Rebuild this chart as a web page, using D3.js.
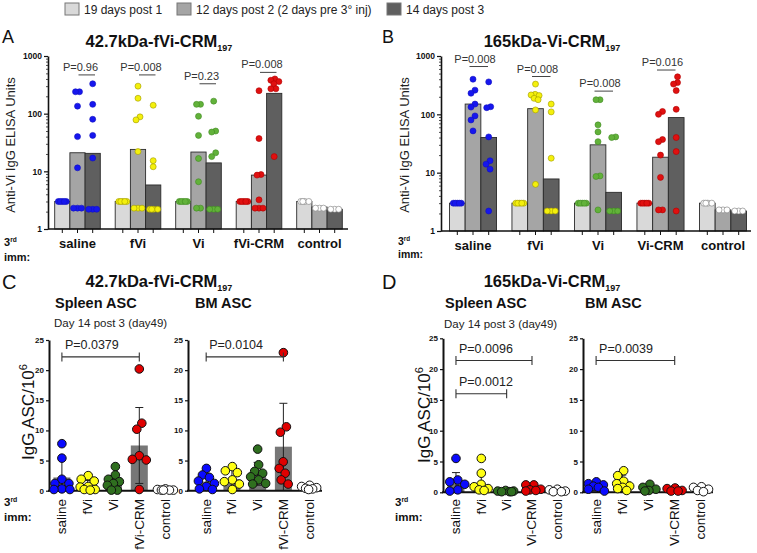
<!DOCTYPE html>
<html><head><meta charset="utf-8">
<script src="https://cdn.jsdelivr.net/npm/d3@7"></script>
<style>body{margin:0;background:#fff} svg{display:block}</style>
</head><body><svg id="c" width="757" height="553"></svg>
<script>
// ---------------- DATA ----------------
const legendLabels = ["19 days post 1", "12 days post 2 (2 days pre 3° inj)", "14 days post 3"];
const groupsA = ["saline", "fVi", "Vi", "fVi-CRM", "control"];
const groupsB = ["saline", "fVi", "Vi", "Vi-CRM", "control"];
const logTicks = [1, 10, 100, 1000];
const ascTicks = [0, 5, 10, 15, 20, 25];

// bar heights (3 timepoints per group)
const barsA = [[3, 21, 20.5], [3, 24, 5.8], [3, 21.6, 14], [3, 8.6, 225], [3, 2.4, 2.2]];
const barsB = [[3, 150, 40], [3, 125, 7.8], [3, 30, 4.6], [3, 18.4, 88], [3, 2.3, 2.2]];

// individual mice
const pointsA = [
  [[3,3,3,3,3], [240,240,135,40,11.5,2.3,2.3,2.3], [330,145,80,42,17,2.2,2.2,2.2]],
  [[3,3,3,3,3], [300,185,88,78,22,2.3,2.3,2.3], [140,15.3,12,2.2,2.2,2.2,2.2]],
  [[3,3,3,3,3], [145,145,90,42,16.7,6.6,2.3,2.3], [165,50,48,21,18,2.2,2.2,2.2]],
  [[3,3,3,3,3], [250,37,8.8,8.6,3.2,2.3,2.3,2.3], [400,380,360,330,270,270,18]],
  [[3,3,3,3], [2.3,2.3,2.3], [2.2,2.2,2.2]]
];
const pointsB = [
  [[3,3,3,3,3], [400,260,230,150,133,94,80,52], [360,135,130,41,16,14,11.5,2.2]],
  [[3,3,3,3,3], [330,220,215,210,188,178,119,6.3], [150,110,17.7,2.2,2.2,2.2]],
  [[3,3,3,3,3], [178,178,66,50,34,8.8,8.6,2.3], [41,40,2.2,2.2,2.2]],
  [[3,3,3,3,3], [112,100,37,34,20,8.3,2.3,2.3], [440,350,330,255,122,40,23,2.2]],
  [[3,3,3,3], [2.3,2.3,2.3], [2.2,2.2,2.2]]
];
const pLabelsA = ["P=0.96", "P=0.008", "P=0.23", "P=0.008"];
const pLevelA = [470, 470, 330, 520];
const pLabelsB = ["P=0.008", "P=0.008", "P=0.008", "P=0.016"];
const pLevelB = [660, 445, 250, 575];

// ASC panels (C: 42.7kDa-fVi-CRM197, D: 165kDa-Vi-CRM197)
const meanSpleenC = [2.2, 0.8, 1.3, 7.5, 0.05];
const sdSpleenC   = [3.2, 0.9, 1.2, 6.3, 0];
const ptsSpleenC = [
  [7.8,5.4,1.9,1.2,1.2,0.3,0.2,0.2],
  [2.5,1.9,1.6,0.7,0.6,0.2,0.1,0.2],
  [4.0,2.6,1.9,1.5,1.2,0.9,0.1,0.1],
  [20.2,11.2,10.2,5.8,5.2,5.1,0.2],
  [0.1,0.1,0.2,0.3,0.1,0.1]
];
const meanBmC = [1.5, 1.9, 2.8, 7.3, 0.4];
const sdBmC   = [1.4, 1.6, 1.9, 7.2, 0.2];
const ptsBmC = [
  [3.7,2.6,2.2,1.6,1.2,0.7,0.3,0.2],
  [4.0,3.3,3.0,1.8,1.5,1.1,0.2],
  [6.9,4.3,3.2,2.9,2.3,1.8,1.2,1.1],
  [22.9,10.6,9.7,4.8,3.7,2.9,1.8,1.1],
  [0.7,0.9,0.4,0.2,0.3,0.5]
];
const meanSpleenD = [1.5, 1.3, 0.1, 0.4, 0.1];
const sdSpleenD   = [1.7, 2.0, 0.1, 0.4, 0.1];
const ptsSpleenD = [
  [5.5,2.0,1.7,1.3,0.4,0.2],
  [5.5,3.1,1.3,0.9,0.6,0.4,0.3],
  [0.2,0.1,0.1,0.2,0.1,0.3],
  [1.2,1.2,0.5,0.4,0.2,0.3],
  [0.1,0.2,0.4,0.1,0.5]
];
const meanBmD = [1.0, 1.8, 0.5, 0.3, 0.5];
const sdBmD   = [0.5, 1.0, 0.3, 0.2, 0.3];
const ptsBmD = [
  [1.7,1.4,1.2,1.0,0.8,0.5,0.2],
  [3.5,2.7,1.8,1.4,1.0,0.8,0.6,0.3],
  [1.3,0.8,0.5,0.3,0.2],
  [0.7,0.6,0.3,0.2,0.2],
  [0.8,0.9,0.5,0.3,0.1]
];
const bracketsSpleenC = [{from: 0, to: 3, level: 22.2, label: "P=0.0379"}];
const bracketsBmC = [{from: 0, to: 3, level: 22.2, label: "P=0.0104"}];
const bracketsSpleenD = [{from: 0, to: 3, level: 21.4, label: "P=0.0096"}, {from: 0, to: 2, level: 16.0, label: "P=0.0012"}];
const bracketsBmD = [{from: 0, to: 3, level: 21.4, label: "P=0.0039"}];

// ---------------- STYLE ----------------
const FONT = '"Liberation Sans", Arial, Helvetica, sans-serif';
const barFills = ["#d9d9d9", "#a5a5a5", "#5f5f5f"];
const colorsAB = ["#1616ee", "#f4f00c", "#62b23a", "#e01010", "#ffffff"];
const strokesAB = ["#1010c0", "#a09800", "#3f8a22", "#b00000", "#777777"];
const colorsCD = ["#0a0aff", "#ffff14", "#2f6f1f", "#e00000", "#ffffff"];

const svg = d3.select("#c");

function txt(x, y, s, size, weight, anchor, fill) {
  return svg.append("text").attr("x", x).attr("y", y).text(s)
    .attr("font-family", FONT).attr("font-size", size)
    .attr("font-weight", weight || "normal").attr("text-anchor", anchor || "start")
    .attr("fill", fill || "#111");
}

// collision-based beeswarm, then each touching cluster recentred on the column
function swarm(values, yScale, cx, r, maxHalf, minDist) {
  const pts = values.map(v => ({v, y: yScale(v)})).sort((a, b) => a.y - b.y);
  const placed = [];
  const lim = Math.floor(maxHalf);
  pts.forEach(p => {
    let best = 0, bestScore = -1;
    for (let s = 0; s <= 2 * lim; s++) {
      const off = s === 0 ? 0 : (s % 2 ? -Math.ceil(s / 2) : s / 2);
      let md = Infinity;
      placed.forEach(q => { const d = Math.hypot(q.x - (cx + off), q.y - p.y); if (d < md) md = d; });
      if (md >= minDist) { best = off; bestScore = Infinity; break; }
      if (md > bestScore) { bestScore = md; best = off; }
    }
    p.x = cx + best; placed.push(p);
  });
  // components of touching points
  const parent = pts.map((_, i) => i);
  const find = i => parent[i] === i ? i : (parent[i] = find(parent[i]));
  for (let i = 0; i < pts.length; i++) for (let j = i + 1; j < pts.length; j++) {
    if (Math.abs(pts[i].y - pts[j].y) < 2 * r) parent[find(i)] = find(j);
  }
  const comps = d3.group(pts.map((p, i) => ({p, c: find(i)})), d => d.c);
  comps.forEach(arr => {
    const m = d3.mean(arr, d => d.p.x) - cx;
    arr.forEach(d => d.p.x -= m);
  });
  return pts;
}

function title(cx, y, main, sub) {
  const t = svg.append("text").attr("x", cx).attr("y", y).attr("text-anchor", "middle")
    .attr("font-family", FONT).attr("font-weight", "bold").attr("font-size", 16.5).attr("fill", "#111");
  t.append("tspan").text(main);
  t.append("tspan").attr("dy", 4).attr("font-size", 9).text(sub);
}

function immLabel(x, y1, y2, size) {
  const t = svg.append("text").attr("x", x).attr("y", y1).attr("font-family", FONT)
    .attr("font-weight", "bold").attr("font-size", size).attr("fill", "#111");
  t.append("tspan").text("3");
  t.append("tspan").attr("dy", -4).attr("font-size", size * 0.6).text("rd");
  txt(x, y2, "imm:", size, "bold");
}

// ---------------- LEGEND ----------------
const legendX = [65, 177, 387];
legendLabels.forEach((s, i) => {
  svg.append("rect").attr("x", legendX[i]).attr("y", 3).attr("width", 14).attr("height", 12)
    .attr("fill", barFills[i]).attr("stroke", "#777").attr("stroke-width", 1);
  txt(legendX[i] + 19, 14, s, 12, "normal", "start", "#222");
});

// ---------------- LOG PANELS (A, B) ----------------
function drawLogPanel(o) {
  const g = svg.append("g");
  const y = d3.scaleLog().domain([1, 1000]).range([o.yBottom, o.yTop]);
  const x = d3.scalePoint().domain(o.groups).range(o.xRange).padding(0.5);
  const bw = o.bw;
  o.groups.forEach((grp, i) => {
    o.bars[i].forEach((v, k) => {
      const cx = x(grp) + (k - 1) * bw;
      g.append("rect").attr("x", cx - bw / 2).attr("y", y(v)).attr("width", bw)
        .attr("height", y(1) - y(v)).attr("fill", barFills[k])
        .attr("stroke", "#2b2b2b").attr("stroke-width", 0.9);
    });
  });
  g.append("line").attr("x1", o.axisX).attr("x2", o.xEnd).attr("y1", y(1)).attr("y2", y(1))
    .attr("stroke", "#111").attr("stroke-width", 1.6);
  o.groups.forEach(grp => [0, 1, 2].forEach(k => {
    const cx = x(grp) + (k - 1) * bw;
    g.append("line").attr("x1", cx).attr("x2", cx).attr("y1", y(1)).attr("y2", y(1) + 4)
      .attr("stroke", "#111").attr("stroke-width", 1);
  }));
  const ga = g.append("g").attr("transform", `translate(${o.axisX},0)`)
    .call(d3.axisLeft(y).tickValues(logTicks).tickFormat(d3.format("d")).tickSize(4).tickSizeOuter(0).tickPadding(2));
  ga.selectAll("text").attr("font-family", FONT).attr("font-size", 8.5).attr("font-weight", "bold").attr("fill", "#111");
  ga.select(".domain").attr("stroke-width", 1.6).attr("stroke", "#111");
  ga.selectAll(".tick line").attr("stroke", "#111").attr("stroke-width", 1.2);
  const minor = [];
  [1, 10, 100].forEach(d => { for (let m = 2; m <= 9; m++) minor.push(d * m); });
  const gm = g.append("g").attr("transform", `translate(${o.axisX},0)`)
    .call(d3.axisLeft(y).tickValues(minor).tickSize(2).tickFormat(""));
  gm.select(".domain").remove();
  gm.selectAll(".tick line").attr("stroke", "#222").attr("stroke-width", 0.8);
  o.groups.forEach((grp, i) => {
    o.points[i].forEach((vals, k) => {
      const cx = x(grp) + (k - 1) * bw;
      const pts = swarm(vals, y, cx, 3, bw / 2 - 3, 5.2);
      g.selectAll(null).data(pts).enter().append("circle")
        .attr("cx", d => d.x).attr("cy", d => d.y).attr("r", 3)
        .attr("fill", colorsAB[i]).attr("stroke", strokesAB[i]).attr("stroke-width", 0.6);
    });
  });
  o.pLabels.forEach((s, i) => {
    const cx = x(o.groups[i]);
    const ly = y(o.pLevels[i]);
    g.append("line").attr("x1", cx + o.lineOff[0]).attr("x2", cx + o.lineOff[1])
      .attr("y1", ly).attr("y2", ly).attr("stroke", "#444").attr("stroke-width", 1);
    txt(cx + o.textOff, ly - 4, s, 11, "normal", "middle", "#333");
  });
  o.groups.forEach(grp => txt(x(grp), o.labelY, grp, 13, "bold", "middle"));
  svg.append("text").attr("transform", `translate(${o.titleX},${o.titleY}) rotate(-90)`)
    .attr("text-anchor", "middle").attr("font-family", FONT).attr("font-size", 13)
    .attr("fill", "#222").text("Anti-Vi IgG ELISA Units");
}

drawLogPanel({groups: groupsA, bars: barsA, points: pointsA, pLabels: pLabelsA, pLevels: pLevelA,
  yBottom: 229, yTop: 56, xRange: [47.25, 349.75], bw: 15.2, axisX: 48, xEnd: 348,
  lineOff: [1, 17.5], textOff: 3, labelY: 248, titleX: 15, titleY: 145});
drawLogPanel({groups: groupsB, bars: barsB, points: pointsB, pLabels: pLabelsB, pLevels: pLevelB,
  yBottom: 231, yTop: 56, xRange: [441.75, 754.25], bw: 15.7, axisX: 441, xEnd: 751,
  lineOff: [-3.5, 15], textOff: 2, labelY: 250, titleX: 409, titleY: 145});

// ---------------- ASC PANELS (C, D) ----------------
function drawAscPanel(o) {
  const g = svg.append("g");
  const y = d3.scaleLinear().domain([0, 25]).range([o.yZero, o.yTop]);
  const x = d3.scalePoint().domain(o.groups).range(o.xRange).padding(0.5);
  const bw = 17;
  o.groups.forEach((grp, i) => {
    g.append("rect").attr("x", x(grp) - bw / 2).attr("y", y(o.means[i])).attr("width", bw)
      .attr("height", y(0) - y(o.means[i])).attr("fill", "#777777");
  });
  o.groups.forEach((grp, i) => {
    if (o.sds[i] <= 0) return;
    const cx = x(grp), hi = o.means[i] + o.sds[i], lo = Math.max(0, o.means[i] - o.sds[i]);
    g.append("line").attr("x1", cx).attr("x2", cx).attr("y1", y(lo)).attr("y2", y(hi))
      .attr("stroke", "#222").attr("stroke-width", 1);
    g.append("line").attr("x1", cx - 4).attr("x2", cx + 4).attr("y1", y(hi)).attr("y2", y(hi))
      .attr("stroke", "#222").attr("stroke-width", 1);
    if (lo > 0.3) g.append("line").attr("x1", cx - 4).attr("x2", cx + 4).attr("y1", y(lo)).attr("y2", y(lo))
      .attr("stroke", "#222").attr("stroke-width", 1);
  });
  const ga = g.append("g").attr("transform", `translate(${o.axisX},0)`)
    .call(d3.axisLeft(y).tickValues(ascTicks).tickSize(3).tickSizeOuter(0).tickPadding(2));
  ga.selectAll("text").attr("font-family", FONT).attr("font-size", 8).attr("font-weight", "bold").attr("fill", "#111");
  ga.select(".domain").attr("stroke-width", 2).attr("stroke", "#111");
  ga.selectAll(".tick line").attr("stroke", "#111").attr("stroke-width", 1.2);
  g.append("line").attr("x1", o.axisX - 1).attr("x2", o.axisEnd).attr("y1", y(0)).attr("y2", y(0))
    .attr("stroke", "#111").attr("stroke-width", 2);
  o.groups.forEach((grp, i) => {
    const pts = swarm(o.points[i], y, x(grp), 4.3, 8, 7.4);
    g.selectAll(null).data(pts).enter().append("circle")
      .attr("cx", d => d.x).attr("cy", d => d.y).attr("r", 4.3)
      .attr("fill", colorsCD[i]).attr("stroke", "#111").attr("stroke-width", 1);
  });
  o.brackets.forEach(b => {
    const x1 = x(o.groups[b.from]), x2 = x(o.groups[b.to]), by = y(b.level);
    g.append("path").attr("d", `M${x1},${by - 4.5}V${by + 4.5}M${x1},${by}H${x2}M${x2},${by - 4.5}V${by + 4.5}`)
      .attr("stroke", "#333").attr("stroke-width", 1.1).attr("fill", "none");
    txt(x1 + 3, by - 7.5, b.label, 12.5, "normal", "start", "#222");
  });
  o.groups.forEach(grp => {
    svg.append("text").attr("transform", `translate(${x(grp) + 4.5},499) rotate(-90)`)
      .attr("text-anchor", "end").attr("font-family", FONT).attr("font-size", 13.5)
      .attr("fill", "#111").text(grp);
  });
}

function ascYTitle(x, y) {
  const t = svg.append("text").attr("transform", `translate(${x},${y}) rotate(-90)`)
    .attr("text-anchor", "middle").attr("font-family", FONT).attr("font-size", 17).attr("fill", "#111");
  t.append("tspan").text("IgG ASC/10");
  t.append("tspan").attr("dy", -7).attr("font-size", 11).text("6");
}

drawAscPanel({groups: groupsA, means: meanSpleenC, sds: sdSpleenC, points: ptsSpleenC, brackets: bracketsSpleenC,
  yZero: 490.7, yTop: 340, axisX: 49, xRange: [49, 178], axisEnd: 178});
drawAscPanel({groups: groupsA, means: meanBmC, sds: sdBmC, points: ptsBmC, brackets: bracketsBmC,
  yZero: 490.7, yTop: 340, axisX: 188, xRange: [193.3, 322], axisEnd: 322});
drawAscPanel({groups: groupsB, means: meanSpleenD, sds: sdSpleenD, points: ptsSpleenD, brackets: bracketsSpleenD,
  yZero: 492.3, yTop: 338.3, axisX: 443, xRange: [443.3, 570], axisEnd: 563});
drawAscPanel({groups: groupsB, means: meanBmD, sds: sdBmD, points: ptsBmD, brackets: bracketsBmD,
  yZero: 492.3, yTop: 338.3, axisX: 583, xRange: [583, 714], axisEnd: 713});

ascYTitle(34, 412);
ascYTitle(430, 415);

// ---------------- TITLES & LABELS ----------------
txt(2, 43, "A", 18); txt(382, 43, "B", 18);
txt(2, 289, "C", 20); txt(382, 289, "D", 20);
title(159, 47, "42.7kDa-fVi-CRM", "197");
title(552, 47, "165kDa-Vi-CRM", "197");
title(159, 287, "42.7kDa-fVi-CRM", "197");
title(552, 287, "165kDa-Vi-CRM", "197");
immLabel(4, 246, 261, 11);
immLabel(398, 245, 258, 10.5);
immLabel(4, 506, 521, 11.5);
immLabel(395, 506, 521, 11.5);

txt(55, 308, "Spleen ASC", 14.5, "bold"); txt(195, 308, "BM ASC", 14.5, "bold");
txt(445, 308, "Spleen ASC", 14.5, "bold"); txt(585, 308, "BM ASC", 14.5, "bold");
txt(54, 327, "Day 14 post 3 (day49)", 11.5, "normal", "start", "#222");
txt(444, 328, "Day 14 post 3 (day49)", 11.5, "normal", "start", "#222");
</script></body></html>
